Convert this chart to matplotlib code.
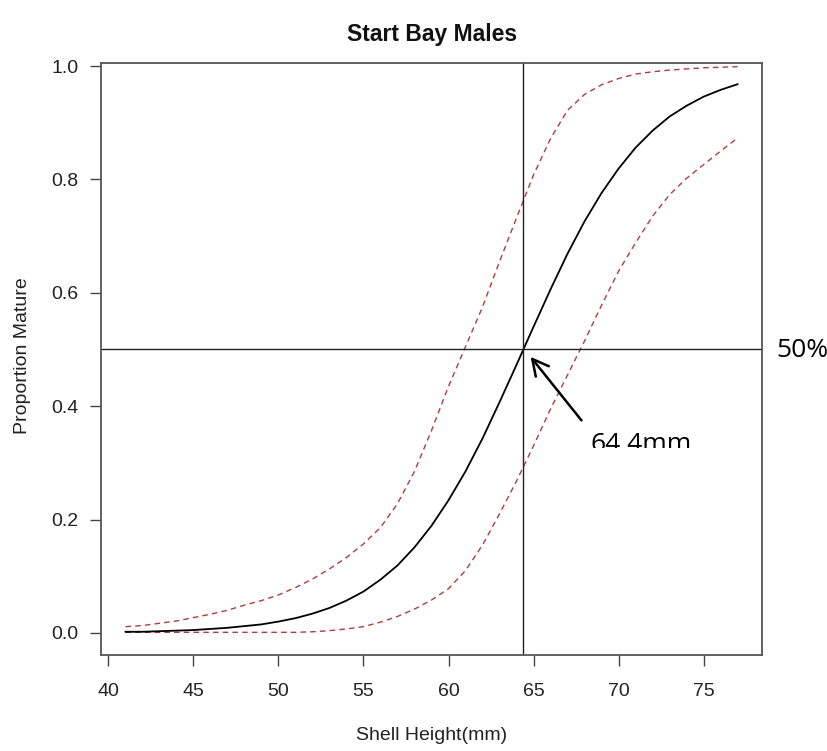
import matplotlib
matplotlib.use("Agg")
import matplotlib.pyplot as plt
from matplotlib.transforms import Bbox, TransformedBbox

# shell height (mm) and fitted proportion mature
shell_height = [41, 42, 43, 44, 45, 46, 47, 48, 49, 50,
                51, 52, 53, 54, 55, 56, 57, 58, 59, 60,
                61, 62, 63, 64, 65, 66, 67, 68, 69, 70,
                71, 72, 73, 74, 75, 76, 77]
fit = [0.002, 0.002, 0.003, 0.004, 0.005, 0.007, 0.009, 0.012, 0.015, 0.020,
       0.026, 0.034, 0.044, 0.057, 0.073, 0.094, 0.119, 0.151, 0.189, 0.234,
       0.285, 0.343, 0.407, 0.473, 0.540, 0.606, 0.669, 0.726, 0.776, 0.819,
       0.856, 0.886, 0.911, 0.930, 0.946, 0.958, 0.968]
upper = [0.011, 0.013, 0.017, 0.021, 0.027, 0.033, 0.040, 0.049, 0.057, 0.067,
         0.080, 0.095, 0.113, 0.133, 0.157, 0.186, 0.228, 0.285, 0.357, 0.435,
         0.505, 0.575, 0.655, 0.732, 0.808, 0.872, 0.922, 0.950, 0.967, 0.978,
         0.986, 0.990, 0.993, 0.995, 0.997, 0.998, 0.999]
lower = [0.001, 0.001, 0.001, 0.001, 0.001, 0.001, 0.001, 0.001, 0.001, 0.001,
         0.001, 0.002, 0.004, 0.007, 0.011, 0.019, 0.029, 0.042, 0.058, 0.078,
         0.110, 0.155, 0.210, 0.268, 0.330, 0.395, 0.455, 0.515, 0.578, 0.638,
         0.688, 0.735, 0.773, 0.802, 0.826, 0.850, 0.873]

L50 = 64.4
xticks = [40, 45, 50, 55, 60, 65, 70, 75]
yticks = [0.0, 0.2, 0.4, 0.6, 0.8, 1.0]
ytick_labels = ["0.0", "0.2", "0.4", "0.6", "0.8", "1.0"]

W, H = 828, 751
plt.rcParams["font.family"] = ["Liberation Sans", "DejaVu Sans"]
fig = plt.figure(figsize=(W / 100, H / 100), dpi=100)
ax = fig.add_axes([101 / W, 1 - 655 / H, (762 - 101) / W, (655 - 62.7) / H])

red = "#b23c3c"
ax.plot(shell_height, upper, color=red, lw=1.0, ls=(0, (4, 3)))
ax.plot(shell_height, lower, color=red, lw=1.0, ls=(0, (4, 3)))
ax.plot(shell_height, fit, color="black", lw=1.3)
ax.axvline(L50, color="#222222", lw=1.0)
ax.axhline(0.5, color="#222222", lw=1.0)

ax.set_xlim(39.56, 78.44)
ax.set_ylim(-0.039, 1.006)
ax.set_xticks(xticks)
ax.set_yticks(yticks)
ax.set_yticklabels(ytick_labels)
ax.tick_params(length=8, width=1.0, color="#444444", labelsize=14,
               labelcolor="#222222")
ax.tick_params(axis="x", pad=12)
ax.tick_params(axis="y", pad=8)
for s in ax.spines.values():
    s.set_color("#555555")
    s.set_linewidth(1.3)

fig.text(432 / W, 1 - 35 / H, "Start Bay Males", ha="center", va="center",
         fontsize=16.5, fontweight="bold", color="#111111")
fig.text(432 / W, 1 - 735 / H, "Shell Height(mm)", ha="center", va="center",
         fontsize=14, color="#222222")
fig.text(23 / W, 1 - 356 / H, "Proportion Mature", ha="center", va="center",
         rotation=90, fontsize=14, color="#222222")

# annotations added on top of the plot
fig.text(776 / W, 1 - 357 / H, "50%", ha="left", va="baseline",
         fontsize=19, family=["Open Sans", "DejaVu Sans"], color="black")
t = fig.text(591 / W, 1 - 451 / H, "64.4mm", ha="left", va="baseline",
             fontsize=19, family=["Open Sans", "DejaVu Sans"], color="black")
t.set_clip_box(TransformedBbox(Bbox([[0, 1 - 448 / H], [1, 1]]), fig.transFigure))
t.set_clip_on(True)

ax.annotate("", xy=(64.83, 0.487), xytext=(67.82, 0.375),
            arrowprops=dict(arrowstyle="->,head_length=1.15,head_width=0.6",
                            lw=1.8, color="black", shrinkA=0, shrinkB=0),
            annotation_clip=False)

fig.savefig("out.png", dpi=100)
